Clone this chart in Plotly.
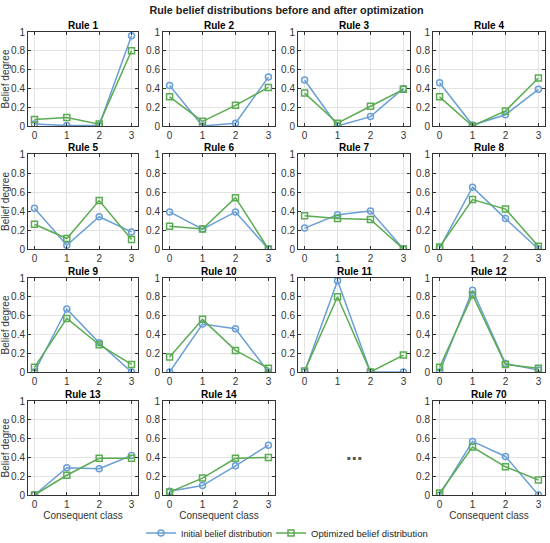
import plotly.graph_objects as go

# consequent classes on the x axis
classes = [0, 1, 2, 3]
rule_names = ["Rule 1", "Rule 2", "Rule 3", "Rule 4",
              "Rule 5", "Rule 6", "Rule 7", "Rule 8",
              "Rule 9", "Rule 10", "Rule 11", "Rule 12",
              "Rule 13", "Rule 14", "Rule 70"]

# initial belief distribution per rule
initial = [
    [0.02, 0.005, 0.005, 0.96],
    [0.43, 0.00, 0.03, 0.52],
    [0.49, 0.00, 0.10, 0.40],
    [0.46, 0.01, 0.12, 0.39],
    [0.43, 0.04, 0.34, 0.18],
    [0.39, 0.21, 0.39, 0.00],
    [0.22, 0.36, 0.40, 0.00],
    [0.01, 0.65, 0.32, 0.00],
    [0.00, 0.67, 0.31, 0.00],
    [0.00, 0.51, 0.46, 0.00],
    [0.00, 0.97, 0.00, 0.00],
    [0.00, 0.87, 0.09, 0.02],
    [0.00, 0.29, 0.28, 0.42],
    [0.04, 0.10, 0.31, 0.53],
    [0.00, 0.57, 0.41, 0.00],
]

# optimized belief distribution per rule
optimized = [
    [0.07, 0.09, 0.02, 0.80],
    [0.31, 0.05, 0.22, 0.41],
    [0.35, 0.03, 0.21, 0.39],
    [0.31, 0.00, 0.16, 0.51],
    [0.26, 0.11, 0.51, 0.10],
    [0.24, 0.21, 0.54, 0.00],
    [0.35, 0.32, 0.31, 0.00],
    [0.02, 0.52, 0.42, 0.03],
    [0.05, 0.57, 0.29, 0.08],
    [0.16, 0.56, 0.23, 0.04],
    [0.01, 0.80, 0.00, 0.18],
    [0.05, 0.82, 0.08, 0.04],
    [0.00, 0.21, 0.39, 0.39],
    [0.03, 0.18, 0.39, 0.40],
    [0.02, 0.51, 0.30, 0.16],
]

y_ticks = [0, 0.2, 0.4, 0.6, 0.8, 1]
y_ticklabels = ["0", "0.2", "0.4", "0.6", "0.8", "1"]

W, H = 550, 543
BLUE = "#6a9fd6"
GREEN = "#5aab52"
FONT = "Liberation Sans"

# pixel boxes of the panels
col_px = [(28, 138), (163, 275), (298, 410), (433, 545)]
row_px = [(32, 126), (154, 249), (278, 372), (401, 495)]
cells = [(r, c) for r in range(4) for c in range(4)]
cells.remove((3, 2))  # the "..." slot

fig = go.Figure()
annotations = []

for k, (name, ini, opt) in enumerate(zip(rule_names, initial, optimized)):
    r, c = cells[k]
    n = k + 1
    xa = "x" if n == 1 else f"x{n}"
    ya = "y" if n == 1 else f"y{n}"
    fig.add_trace(go.Scatter(
        x=classes, y=ini, mode="lines+markers", xaxis=xa, yaxis=ya,
        name="Initial belief distribution", legend="legend", showlegend=(n == 1),
        line=dict(color=BLUE, width=1.5),
        marker=dict(symbol="circle-open", size=6, color=BLUE, line=dict(width=1.5)),
    ))
    fig.add_trace(go.Scatter(
        x=classes, y=opt, mode="lines+markers", xaxis=xa, yaxis=ya,
        name="Optimized belief distribution", legend="legend2", showlegend=(n == 1),
        line=dict(color=GREEN, width=1.5),
        marker=dict(symbol="square-open", size=6, color=GREEN, line=dict(width=1.5)),
    ))

    x0, x1 = col_px[c]
    y0, y1 = row_px[r]
    common = dict(showline=True, linecolor="#333333", linewidth=1, mirror="ticks",
                  ticks="inside", ticklen=3, tickcolor="#333333", automargin=False,
                  showgrid=True, gridcolor="#e3e3e3", gridwidth=1, zeroline=False,
                  tickfont=dict(family=FONT, size=10, color="#333333"))
    xaxis = dict(common, domain=[x0 / W, x1 / W], range=[-0.2, 3.2],
                 tickvals=classes, anchor=ya)
    yaxis = dict(common, domain=[1 - y1 / H, 1 - y0 / H], range=[0, 1],
                 tickvals=y_ticks, ticktext=y_ticklabels, anchor=xa)
    if c == 0:
        yaxis["title"] = dict(text="Belief degree", font=dict(family=FONT, size=10, color="#333333"),
                              standoff=5)
    if r == 3:
        xaxis["title"] = dict(text="Consequent class", font=dict(family=FONT, size=10, color="#333333"),
                              standoff=2)
    fig.layout["xaxis" if n == 1 else f"xaxis{n}"] = xaxis
    fig.layout["yaxis" if n == 1 else f"yaxis{n}"] = yaxis

    annotations.append(dict(
        text=f"<b>{name}</b>", x=(x0 + x1) / 2 / W, y=1 - y0 / H, xref="paper", yref="paper",
        xanchor="center", yanchor="bottom", yshift=-1, showarrow=False,
        font=dict(family=FONT, size=10, color="#000000"),
    ))

# ellipsis in the empty slot
annotations.append(dict(
    text="<b>...</b>", x=(col_px[2][0] + col_px[2][1]) / 2 / W,
    y=1 - 453 / H, xref="paper", yref="paper", xanchor="center", yanchor="middle",
    showarrow=False, font=dict(family=FONT, size=20, color="#555555"),
))

legend_style = dict(orientation="h", xanchor="left", y=1 - 533 / H, yanchor="middle",
                    bgcolor="rgba(0,0,0,0)")

fig.update_layout(
    width=W, height=H,
    margin=dict(l=0, r=0, t=0, b=0, autoexpand=False),
    paper_bgcolor="white", plot_bgcolor="white",
    title=dict(text="<b>Rule belief distributions before and after optimization</b>",
               x=0.521, xanchor="center", y=1 - 10 / H, yanchor="middle",
               font=dict(family=FONT, size=10.8, color="#222222")),
    annotations=annotations,
    showlegend=True,
    legend=dict(legend_style, x=141 / W, font=dict(family=FONT, size=9, color="#222222")),
    legend2=dict(legend_style, x=271 / W, font=dict(family=FONT, size=9.5, color="#222222")),
)

# page body has a default margin; drop it so the figure sits at the corner
fig.write_html("out.html", config={"displayModeBar": False},
               post_script="document.body.style.margin='0';")
